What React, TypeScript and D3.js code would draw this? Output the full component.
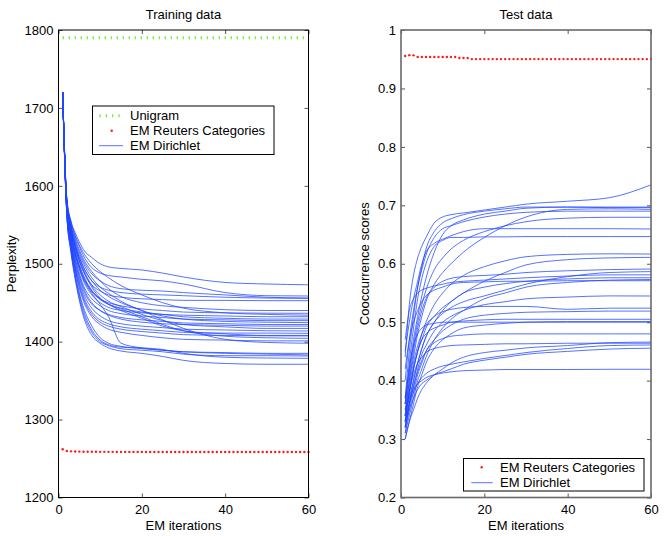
import * as d3 from 'd3';
import { useEffect, useRef } from 'react';

const iterKnots = [1, 2, 3, 4, 5, 6, 8, 10, 12, 15, 20, 25, 30, 40, 50, 60];

const unigramPerplexity = 1790;

const trainReuters = [
  1262.0, 1259.6, 1259.2, 1259.0, 1258.9, 1258.8, 1258.8, 1258.7, 1258.7, 1258.6,
  1258.6, 1258.6, 1258.6, 1258.5, 1258.5, 1258.5, 1258.5, 1258.5, 1258.5, 1258.5,
  1258.4, 1258.4, 1258.4, 1258.4, 1258.4, 1258.4, 1258.4, 1258.4, 1258.4, 1258.4,
  1258.4, 1258.4, 1258.3, 1258.3, 1258.3, 1258.3, 1258.3, 1258.3, 1258.3, 1258.3,
  1258.3, 1258.3, 1258.3, 1258.3, 1258.3, 1258.3, 1258.3, 1258.3, 1258.3, 1258.3,
  1258.3, 1258.3, 1258.3, 1258.3, 1258.3, 1258.3, 1258.3, 1258.3, 1258.3, 1258.3,
];

const trainRuns = [
  [1720, 1585, 1555, 1540, 1528, 1518, 1508, 1500, 1496, 1494, 1492, 1488, 1483, 1476, 1474, 1473],
  [1720, 1582, 1552, 1535, 1522, 1510, 1495, 1488, 1485, 1483, 1480, 1478, 1474, 1463, 1459, 1458.6],
  [1720, 1580, 1548, 1530, 1515, 1503, 1487, 1478, 1472, 1468, 1466, 1465, 1463, 1460, 1457, 1456],
  [1720, 1578, 1545, 1524, 1508, 1495, 1478, 1470, 1466, 1463, 1461, 1460, 1459, 1457, 1456, 1455.6],
  [1720, 1576, 1542, 1520, 1503, 1490, 1473, 1465, 1460, 1457, 1455, 1454, 1453, 1453, 1452.6, 1452.6],
  [1720, 1580, 1550, 1532, 1518, 1506, 1490, 1478, 1468, 1458, 1450, 1446, 1444, 1441, 1440, 1440],
  [1720, 1575, 1540, 1515, 1497, 1483, 1465, 1455, 1450, 1446, 1442, 1440, 1438, 1437, 1436.5, 1436.4],
  [1720, 1583, 1553, 1537, 1524, 1514, 1500, 1490, 1482, 1472, 1460, 1450, 1443, 1437, 1435, 1434],
  [1720, 1573, 1537, 1512, 1493, 1478, 1460, 1450, 1444, 1440, 1437, 1435, 1434, 1433, 1432, 1432],
  [1720, 1574, 1538, 1514, 1496, 1482, 1464, 1454, 1448, 1443, 1438, 1435, 1432, 1430, 1429, 1429],
  [1720, 1572, 1534, 1508, 1488, 1472, 1455, 1446, 1440, 1436, 1433, 1431, 1429, 1428, 1427, 1427],
  [1720, 1579, 1547, 1527, 1512, 1500, 1482, 1470, 1462, 1452, 1440, 1433, 1429, 1426, 1425, 1424.4],
  [1720, 1570, 1530, 1502, 1482, 1466, 1448, 1440, 1435, 1431, 1428, 1426, 1424, 1423, 1422, 1422],
  [1720, 1571, 1532, 1505, 1485, 1469, 1450, 1440, 1434, 1429, 1425, 1423, 1422, 1421, 1420, 1420],
  [1720, 1577, 1544, 1522, 1505, 1492, 1472, 1460, 1452, 1445, 1435, 1427, 1422, 1419, 1417, 1417],
  [1720, 1569, 1528, 1499, 1478, 1462, 1443, 1433, 1427, 1423, 1420, 1418, 1416, 1415, 1414, 1413.7],
  [1720, 1568, 1526, 1497, 1475, 1458, 1438, 1428, 1423, 1419, 1416, 1414, 1412, 1411, 1411, 1410.7],
  [1720, 1576, 1543, 1521, 1504, 1490, 1470, 1456, 1448, 1440, 1430, 1420, 1414, 1410, 1408, 1408],
  [1720, 1567, 1524, 1494, 1472, 1455, 1435, 1425, 1420, 1416, 1413, 1411, 1409, 1408, 1407.5, 1407.3],
  [1720, 1574, 1539, 1516, 1499, 1485, 1466, 1455, 1448, 1442, 1432, 1422, 1414, 1407, 1405, 1404.3],
  [1720, 1566, 1522, 1492, 1469, 1452, 1432, 1422, 1416, 1412, 1408, 1405, 1403, 1402, 1401, 1401],
  [1720, 1578, 1546, 1525, 1509, 1496, 1478, 1466, 1458, 1450, 1440, 1428, 1417, 1403, 1399, 1398],
  [1720, 1565, 1520, 1488, 1463, 1444, 1420, 1405, 1398, 1394, 1391, 1389, 1387, 1386, 1385, 1385],
  [1720, 1572, 1535, 1511, 1494, 1480, 1462, 1448, 1432, 1398, 1392, 1389, 1387, 1385, 1384, 1383],
  [1720, 1563, 1516, 1483, 1456, 1436, 1412, 1400, 1395, 1391, 1389, 1387, 1384, 1382, 1382, 1381.6],
  [1720, 1564, 1518, 1485, 1460, 1440, 1415, 1402, 1396, 1393, 1392, 1390, 1385, 1380, 1379, 1378.6],
  [1720, 1562, 1514, 1480, 1453, 1432, 1408, 1398, 1392, 1388, 1385, 1381, 1376, 1372, 1371, 1371],
];

const testReuters = [
  0.9555, 0.957, 0.9566, 0.9538, 0.9538, 0.9538, 0.9538, 0.9538, 0.9538, 0.9538,
  0.9538, 0.9538, 0.9538, 0.952, 0.952, 0.952, 0.9502, 0.9502, 0.9502, 0.9502,
  0.9502, 0.9502, 0.9502, 0.9502, 0.9502, 0.9502, 0.9502, 0.9502, 0.9502, 0.9502,
  0.9502, 0.9502, 0.9502, 0.9502, 0.9502, 0.9502, 0.9502, 0.9502, 0.9502, 0.9502,
  0.9502, 0.9502, 0.9502, 0.9502, 0.9502, 0.9502, 0.9502, 0.9502, 0.9502, 0.9502,
  0.9502, 0.9502, 0.9502, 0.9502, 0.9502, 0.9502, 0.9502, 0.9502, 0.9502, 0.9502,
];

const testRuns = [
  [0.44, 0.53, 0.58, 0.61, 0.63, 0.645, 0.67, 0.68, 0.684, 0.687, 0.692, 0.697, 0.702, 0.707, 0.713, 0.735],
  [0.40, 0.47, 0.52, 0.56, 0.595, 0.625, 0.655, 0.67, 0.677, 0.684, 0.69, 0.694, 0.697, 0.697, 0.696, 0.696],
  [0.35, 0.40, 0.44, 0.48, 0.51, 0.535, 0.565, 0.585, 0.60, 0.62, 0.645, 0.665, 0.68, 0.693, 0.694, 0.693],
  [0.37, 0.45, 0.51, 0.56, 0.59, 0.615, 0.645, 0.66, 0.665, 0.672, 0.68, 0.685, 0.688, 0.69, 0.69, 0.69],
  [0.36, 0.41, 0.46, 0.50, 0.53, 0.555, 0.59, 0.61, 0.625, 0.64, 0.655, 0.665, 0.672, 0.678, 0.6795, 0.6795],
  [0.45, 0.50, 0.54, 0.57, 0.60, 0.62, 0.635, 0.642, 0.648, 0.655, 0.66, 0.66, 0.66, 0.66, 0.66, 0.6595],
  [0.36, 0.43, 0.49, 0.54, 0.575, 0.60, 0.63, 0.64, 0.645, 0.645, 0.646, 0.646, 0.6465, 0.6465, 0.6465, 0.6465],
  [0.37, 0.42, 0.47, 0.51, 0.545, 0.575, 0.62, 0.65, 0.665, 0.675, 0.685, 0.69, 0.695, 0.697, 0.697, 0.697],
  [0.34, 0.38, 0.42, 0.45, 0.48, 0.50, 0.53, 0.55, 0.565, 0.58, 0.595, 0.605, 0.612, 0.616, 0.617, 0.6166],
  [0.33, 0.37, 0.40, 0.43, 0.455, 0.475, 0.50, 0.52, 0.535, 0.55, 0.57, 0.585, 0.598, 0.607, 0.61, 0.6109],
  [0.34, 0.40, 0.45, 0.49, 0.52, 0.54, 0.56, 0.57, 0.575, 0.578, 0.58, 0.582, 0.585, 0.588, 0.59, 0.591],
  [0.32, 0.36, 0.40, 0.43, 0.455, 0.475, 0.50, 0.515, 0.525, 0.535, 0.545, 0.555, 0.565, 0.578, 0.585, 0.5865],
  [0.47, 0.52, 0.54, 0.55, 0.555, 0.558, 0.562, 0.565, 0.568, 0.57, 0.572, 0.574, 0.576, 0.579, 0.581, 0.581],
  [0.33, 0.38, 0.42, 0.45, 0.47, 0.49, 0.51, 0.525, 0.535, 0.55, 0.56, 0.566, 0.57, 0.574, 0.576, 0.576],
  [0.42, 0.47, 0.50, 0.52, 0.535, 0.545, 0.555, 0.56, 0.565, 0.568, 0.569, 0.57, 0.57, 0.571, 0.571, 0.571],
  [0.31, 0.34, 0.37, 0.40, 0.42, 0.44, 0.47, 0.49, 0.505, 0.52, 0.54, 0.55, 0.56, 0.568, 0.572, 0.573],
  [0.32, 0.36, 0.39, 0.42, 0.445, 0.46, 0.485, 0.50, 0.51, 0.52, 0.53, 0.535, 0.54, 0.543, 0.545, 0.5448],
  [0.34, 0.39, 0.43, 0.46, 0.48, 0.495, 0.51, 0.518, 0.522, 0.525, 0.527, 0.527, 0.527, 0.522, 0.524, 0.524],
  [0.31, 0.35, 0.38, 0.41, 0.43, 0.45, 0.47, 0.485, 0.495, 0.505, 0.512, 0.515, 0.517, 0.518, 0.519, 0.519],
  [0.33, 0.38, 0.42, 0.45, 0.47, 0.48, 0.49, 0.495, 0.50, 0.502, 0.504, 0.505, 0.505, 0.505, 0.505, 0.505],
  [0.36, 0.42, 0.46, 0.48, 0.49, 0.495, 0.498, 0.50, 0.50, 0.50, 0.50, 0.50, 0.50, 0.50, 0.50, 0.50],
  [0.30, 0.33, 0.36, 0.39, 0.41, 0.43, 0.455, 0.47, 0.48, 0.49, 0.495, 0.498, 0.50, 0.501, 0.501, 0.501],
  [0.32, 0.36, 0.39, 0.415, 0.435, 0.45, 0.465, 0.472, 0.476, 0.478, 0.48, 0.48, 0.48, 0.48, 0.48, 0.48],
  [0.34, 0.38, 0.41, 0.43, 0.44, 0.448, 0.455, 0.458, 0.46, 0.461, 0.462, 0.463, 0.463, 0.464, 0.464, 0.464],
  [0.33, 0.36, 0.38, 0.395, 0.405, 0.412, 0.42, 0.425, 0.428, 0.432, 0.438, 0.443, 0.448, 0.455, 0.46, 0.461],
  [0.32, 0.35, 0.37, 0.385, 0.395, 0.40, 0.41, 0.415, 0.42, 0.428, 0.435, 0.44, 0.445, 0.45, 0.454, 0.4555],
  [0.30, 0.33, 0.35, 0.37, 0.385, 0.395, 0.41, 0.42, 0.43, 0.44, 0.448, 0.452, 0.456, 0.46, 0.465, 0.466],
  [0.35, 0.37, 0.385, 0.395, 0.40, 0.405, 0.41, 0.413, 0.415, 0.417, 0.418, 0.419, 0.419, 0.419, 0.4194, 0.4194],
];

const xTicks = [0, 20, 40, 60];
const trainTicks = [1200, 1300, 1400, 1500, 1600, 1700, 1800];
const testTicks = [0.2, 0.3, 0.4, 0.5, 0.6, 0.7, 0.8, 0.9, 1];

const FONT = '"Liberation Sans", Arial, Helvetica, sans-serif';
const BLUE = '#2146ff';
const GREEN = '#62f01c';
const RED = '#ff1a1a';

type Panel = {
  left: number;
  right: number;
  top: number;
  bottom: number;
  yDomain: [number, number];
  yTicks: number[];
  title: string;
  yLabel: string;
  yLabelX: number;
  frame: string;
  frameWidth: number;
};

export default function App() {
  const svgRef = useRef<SVGSVGElement>(null);

  useEffect(() => {
    if (!svgRef.current) return;
    const svg = d3.select(svgRef.current);
    svg.selectAll('*').remove();

    const drawPanel = (p: Panel) => {
      const x = d3.scaleLinear().domain([0, 60]).range([p.left, p.right]);
      const y = d3.scaleLinear().domain(p.yDomain).range([p.bottom, p.top]);
      const g = svg.append('g');
      g.append('rect')
        .attr('x', p.left)
        .attr('y', p.top)
        .attr('width', p.right - p.left)
        .attr('height', p.bottom - p.top)
        .attr('fill', '#fff');

      // ticks on all four sides, pointing inward
      const axes = [
        { a: d3.axisBottom(x).tickValues(xTicks).tickSize(-4).tickPadding(7.5), t: `translate(0,${p.bottom})` },
        { a: d3.axisTop(x).tickValues(xTicks).tickSize(-4).tickFormat(() => ''), t: `translate(0,${p.top})` },
        { a: d3.axisLeft(y).tickValues(p.yTicks).tickSize(-4).tickPadding(5).tickFormat((d) => String(+(+d).toFixed(1))), t: `translate(${p.left},0)` },
        { a: d3.axisRight(y).tickValues(p.yTicks).tickSize(-4).tickFormat(() => ''), t: `translate(${p.right},0)` },
      ];
      axes.forEach(({ a, t }) => {
        const ax = g.append('g').attr('transform', t).call(a as any);
        ax.select('.domain').remove();
        ax.selectAll('line').attr('stroke', '#555').attr('stroke-width', 1);
        ax.selectAll('text').attr('fill', '#000').style('font-size', '13px').style('font-family', FONT);
      });

      g.append('text')
        .attr('x', (p.left + p.right) / 2)
        .attr('y', 18.8)
        .attr('text-anchor', 'middle')
        .style('font-size', '13px')
        .style('font-family', FONT)
        .text(p.title);
      g.append('text')
        .attr('x', (p.left + p.right) / 2)
        .attr('y', 530)
        .attr('text-anchor', 'middle')
        .style('font-size', '13px')
        .style('font-family', FONT)
        .text('EM iterations');
      g.append('text')
        .attr('transform', `translate(${p.yLabelX},${(p.top + p.bottom) / 2}) rotate(-90)`)
        .attr('text-anchor', 'middle')
        .style('font-size', '13px')
        .style('font-family', FONT)
        .text(p.yLabel);

      return { g, x, y };
    };

    const runLine = (x: d3.ScaleLinear<number, number>, y: d3.ScaleLinear<number, number>) =>
      d3
        .line<number>()
        .x((_, i) => x(iterKnots[i]))
        .y((d) => y(d))
        .curve(d3.curveMonotoneX);

    // Training panel
    const train = drawPanel({
      left: 58.5, right: 308.5, top: 30, bottom: 497.5,
      yDomain: [1200, 1800], yTicks: trainTicks,
      title: 'Training data', yLabel: 'Perplexity', yLabelX: 16,
      frame: '#000', frameWidth: 1,
    });
    train.g.append('line')
      .attr('x1', train.x(1)).attr('x2', train.x(60))
      .attr('y1', train.y(unigramPerplexity)).attr('y2', train.y(unigramPerplexity))
      .attr('stroke', GREEN).attr('stroke-width', 3).attr('stroke-dasharray', '1.2,4.8');
    train.g.append('g').selectAll('path').data(trainRuns).enter().append('path')
      .attr('d', (d) => runLine(train.x, train.y)(d))
      .attr('fill', 'none').attr('stroke', BLUE).attr('stroke-width', 0.9).attr('stroke-opacity', 0.85);
    train.g.append('g').selectAll('circle').data(trainReuters).enter().append('circle')
      .attr('cx', (_, i) => train.x(i + 1)).attr('cy', (d) => train.y(d))
      .attr('r', 1.2).attr('fill', RED);

    // Test panel
    const test = drawPanel({
      left: 401, right: 651, top: 30, bottom: 497.5,
      yDomain: [0.2, 1], yTicks: testTicks,
      title: 'Test data', yLabel: 'Cooccurrence scores', yLabelX: 369,
      frame: '#6a6a6a', frameWidth: 1.6,
    });
    test.g.append('g').selectAll('path').data(testRuns).enter().append('path')
      .attr('d', (d) => runLine(test.x, test.y)(d))
      .attr('fill', 'none').attr('stroke', BLUE).attr('stroke-width', 0.9).attr('stroke-opacity', 0.85);
    test.g.append('g').selectAll('circle').data(testReuters).enter().append('circle')
      .attr('cx', (_, i) => test.x(i + 1)).attr('cy', (d) => test.y(d))
      .attr('r', 1.2).attr('fill', RED);

    // frames on top of the data
    [
      { l: 58.5, r: 308.5, c: '#000', w: 1 },
      { l: 401, r: 651, c: '#6a6a6a', w: 1.6 },
    ].forEach((f) => {
      svg.append('rect')
        .attr('x', f.l).attr('y', 30).attr('width', f.r - f.l).attr('height', 467.5)
        .attr('fill', 'none').attr('stroke', f.c).attr('stroke-width', f.w);
    });

    // Legends
    const legendText = (sel: any, x: number, yb: number, s: string) =>
      sel.append('text').attr('x', x).attr('y', yb)
        .style('font-size', '13px').style('font-family', FONT).text(s);

    const l1 = svg.append('g');
    l1.append('rect').attr('x', 92.5).attr('y', 106).attr('width', 181.5).attr('height', 48.5)
      .attr('fill', '#fff').attr('stroke', '#000').attr('stroke-width', 1);
    l1.append('line').attr('x1', 99.5).attr('x2', 121).attr('y1', 115.7).attr('y2', 115.7)
      .attr('stroke', GREEN).attr('stroke-width', 3).attr('stroke-dasharray', '1.2,5.1');
    legendText(l1, 130, 120, 'Unigram');
    l1.append('circle').attr('cx', 111.7).attr('cy', 130.7).attr('r', 1.2).attr('fill', RED);
    legendText(l1, 130, 135, 'EM Reuters Categories');
    l1.append('line').attr('x1', 99).attr('x2', 123).attr('y1', 145.7).attr('y2', 145.7)
      .attr('stroke', BLUE).attr('stroke-width', 0.9).attr('stroke-opacity', 0.85);
    legendText(l1, 130, 150, 'EM Dirichlet');

    const l2 = svg.append('g');
    l2.append('rect').attr('x', 463.5).attr('y', 458.5).attr('width', 180.5).attr('height', 32.5)
      .attr('fill', '#fff').attr('stroke', '#000').attr('stroke-width', 1);
    l2.append('circle').attr('cx', 481.7).attr('cy', 467.3).attr('r', 1.2).attr('fill', RED);
    legendText(l2, 500, 471.8, 'EM Reuters Categories');
    l2.append('line').attr('x1', 471.3).attr('x2', 492.7).attr('y1', 482.7).attr('y2', 482.7)
      .attr('stroke', BLUE).attr('stroke-width', 0.9).attr('stroke-opacity', 0.85);
    legendText(l2, 500, 486.8, 'EM Dirichlet');
  }, []);

  return (
    <svg
      ref={svgRef}
      width={664}
      height={536}
      style={{ position: 'absolute', left: 0, top: 0, background: '#fff' }}
    />
  );
}
